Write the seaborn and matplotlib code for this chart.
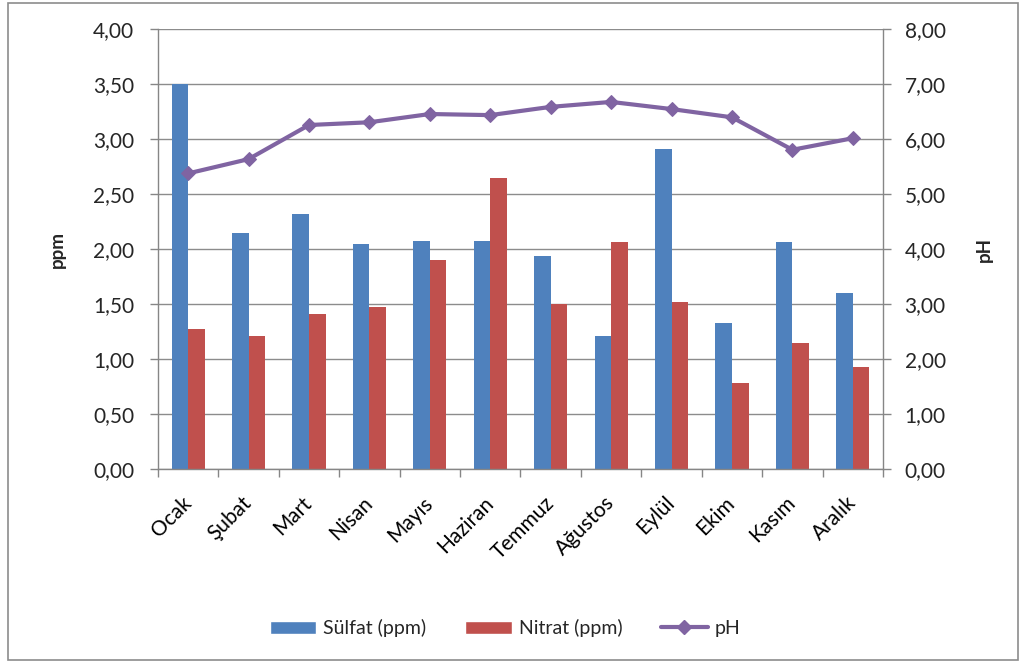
import numpy as np
import pandas as pd
import matplotlib
matplotlib.use("Agg")
import matplotlib.pyplot as plt
from matplotlib.ticker import FuncFormatter, MultipleLocator
from matplotlib.lines import Line2D
from matplotlib.patches import Patch, Rectangle
import seaborn as sns

months = ["Ocak", "Şubat", "Mart", "Nisan", "Mayıs", "Haziran",
          "Temmuz", "Ağustos", "Eylül", "Ekim", "Kasım", "Aralık"]
sulfat = [3.50, 2.15, 2.32, 2.05, 2.08, 2.08, 1.94, 1.21, 2.91, 1.33, 2.07, 1.60]
nitrat = [1.28, 1.21, 1.41, 1.48, 1.90, 2.65, 1.50, 2.07, 1.52, 0.78, 1.15, 0.93]
ph = [5.38, 5.64, 6.26, 6.31, 6.46, 6.44, 6.59, 6.68, 6.55, 6.40, 5.81, 6.02]

series_names = ["Sülfat (ppm)", "Nitrat (ppm)"]
colors = {"Sülfat (ppm)": "#4F81BD", "Nitrat (ppm)": "#C0504D"}
ph_color = "#8064A2"
axis_gray = "#868686"
tick_size = 15

sns.set_theme(style="white")
plt.rcParams["font.family"] = ["Lato", "DejaVu Sans"]

df = pd.DataFrame({
    "Ay": months * 2,
    "Değer": sulfat + nitrat,
    "Seri": [series_names[0]] * 12 + [series_names[1]] * 12,
})

fig = plt.figure(figsize=(10.25, 6.65), dpi=100)
ax = fig.add_axes([0.1541, 0.2943, 0.7074, 0.6616])

sns.barplot(data=df, x="Ay", y="Değer", hue="Seri", order=months,
            hue_order=series_names, palette=colors, width=0.55, gap=0,
            saturation=1, ax=ax, legend=False, linewidth=0)

comma = FuncFormatter(lambda v, _: f"{v:.2f}".replace(".", ","))

ax.set_ylim(0, 4)
ax.set_xlim(-0.5, 11.5)
ax.yaxis.set_major_locator(MultipleLocator(0.5))
ax.yaxis.set_major_formatter(comma)
ax.yaxis.grid(True, color="#8c8c8c", linewidth=1)
ax.set_axisbelow(True)
ax.set_xlabel("")
ax.set_ylabel("ppm", fontsize=13.5, fontweight="bold", labelpad=20)

ax.set_xticks(np.arange(-0.5, 12, 1), minor=True)
ax.tick_params(axis="x", which="major", length=0, pad=22,
               labelsize=tick_size, colors="black")
ax.tick_params(axis="x", which="minor", length=6, width=1, color=axis_gray,
               bottom=True)
ax.tick_params(axis="y", length=6, width=1, color=axis_gray, left=True,
               labelsize=tick_size, pad=11)
for lbl in ax.get_xticklabels():
    lbl.set_rotation(45)
    lbl.set_ha("right")
    lbl.set_va("center")
    lbl.set_rotation_mode("anchor")

for side in ["top", "right"]:
    ax.spines[side].set_visible(False)
for side in ["left", "bottom"]:
    ax.spines[side].set_color(axis_gray)
    ax.spines[side].set_linewidth(1)

ax2 = ax.twinx()
sns.lineplot(x=np.arange(len(months)), y=ph, ax=ax2, color=ph_color,
             linewidth=3, marker="D", markersize=7, markeredgecolor=ph_color,
             legend=False)
ax2.set_ylim(0, 8)
ax2.set_xlim(-0.5, 11.5)
ax2.yaxis.set_major_locator(MultipleLocator(1))
ax2.yaxis.set_major_formatter(comma)
ax2.tick_params(axis="y", length=6, width=1, color=axis_gray, right=True,
                labelsize=tick_size, pad=9.5)
ax2.set_ylabel("pH", fontsize=13.5, fontweight="bold", labelpad=22)
for side in ["top", "left", "bottom"]:
    ax2.spines[side].set_visible(False)
ax2.spines["right"].set_color(axis_gray)
ax2.spines["right"].set_linewidth(1)

handles = [Patch(facecolor=colors[series_names[0]]),
           Patch(facecolor=colors[series_names[1]]),
           Line2D([], [], color=ph_color, linewidth=3, marker="D",
                  markersize=7)]
fig.legend(handles, series_names + ["pH"], loc="center",
           bbox_to_anchor=(0.4927, 0.0555), ncol=3, frameon=False,
           fontsize=14, handlelength=2.4, handleheight=0.7,
           columnspacing=2.0, handletextpad=0.35)

fig.patches.append(Rectangle((8 / 1025, 5 / 665), 1010 / 1025, 657 / 665,
                             transform=fig.transFigure, fill=False,
                             edgecolor="#8c8c8c", linewidth=1.2))

fig.savefig("out.png", dpi=100)
